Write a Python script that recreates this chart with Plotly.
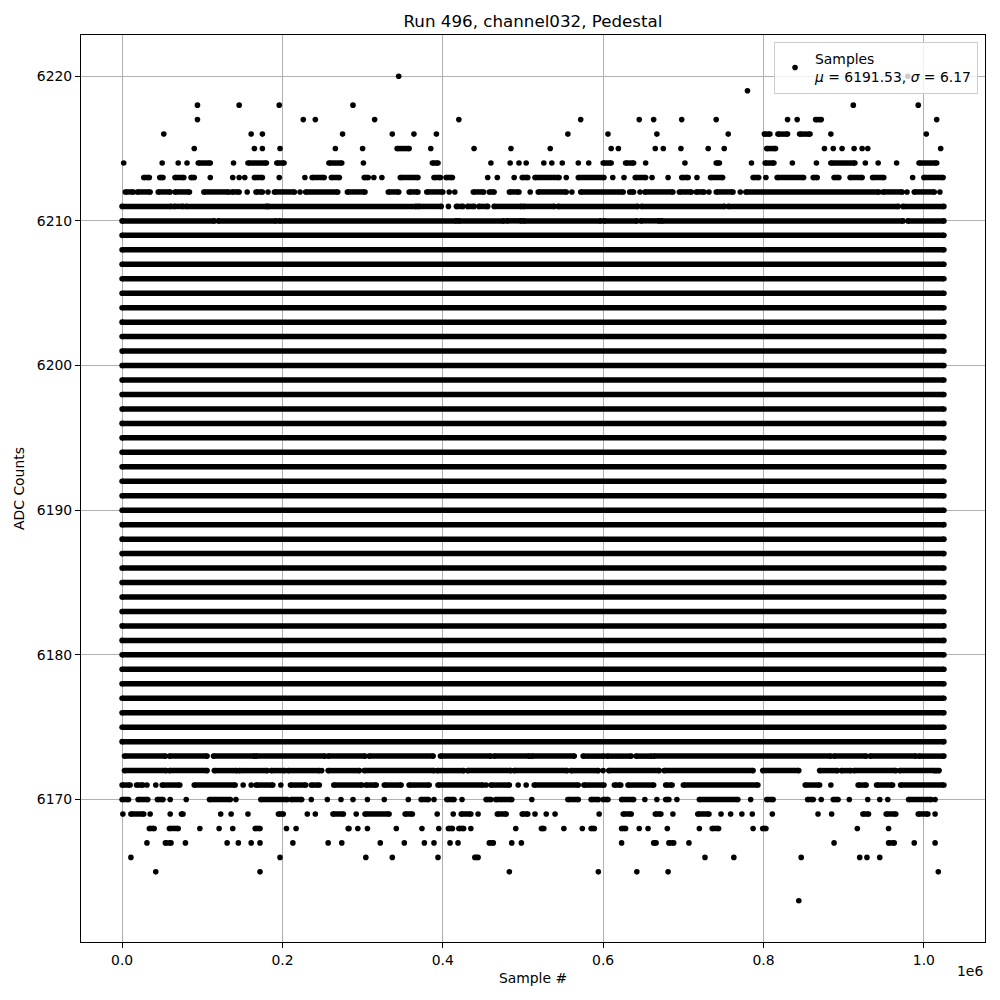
import plotly.graph_objects as go

# ---------------- data (sample positions in thousands of samples) ----------------
N_SAMPLES_K = 1025  # last sample index (x1000)

# ADC levels that are populated continuously over the whole run
dense_levels = [6174, 6175, 6176, 6177, 6178, 6179, 6180, 6181, 6182, 6183, 6184, 6185,
                6186, 6187, 6188, 6189, 6190, 6191, 6192, 6193, 6194, 6195, 6196, 6197,
                6198, 6199, 6200, 6201, 6202, 6203, 6204, 6205, 6206, 6207, 6208, 6209]

# Sparse / gappy levels: single numbers are isolated samples, tuples are runs of samples
adc_6220 = [345, 980]
adc_6219 = [780]
adc_6218 = [94, 146, 196, 288, 912, 993]
adc_6217 = [94, 226, 241, 315, 420, 572, 645, 663, 698, 741, 830, 842, (865, 872), 1016]
adc_6216 = [52, 161, 175, 275, 337, 364, 392, 556, 606, 667, 756, (801, 808), (818, 830),
            (845, 858), 884, 1003]
adc_6215 = [90, 165, 175, 197, 266, 300, (343, 358), 385, 439, 485, 534, 610, 619, 665, 675,
            697, 731, 751, (804, 815), 876, 887, 898, 913, 923, 930, 1021]
adc_6214 = [2, 50, 70, 81, (95, 110), 139, (157, 180), (193, 202), (258, 274), 301, (387, 394),
            460, 484, 495, 504, 526, 536, 549, 569, 582, (600, 610), (628, 638), 653, 702,
            (741, 745), 785, (802, 813), 836, 866, (884, 914), 927, 943, 966, (994, 1016)]
adc_6213 = [(27, 34), (47, 51), (66, 77), (86, 90), 110, 138, 146, 153, (165, 175), 196, 228,
            (237, 252), (261, 271), (302, 307), 314, 324, (347, 369), (389, 397), (404, 412),
            456, 468, 489, (499, 506), (515, 545), 554, (569, 601), 612, 626, (640, 653), 661,
            681, (698, 706), 717, (734, 749), (787, 794), 803, (817, 850), (862, 867),
            (888, 894), (908, 923), (936, 950), 986, (1000, 1024)]
adc_6212 = [(4, 14), (19, 35), (45, 60), (66, 84), (102, 133), (137, 146), 156, (167, 175), 182,
            (190, 215), 222, (229, 269), (281, 303), (332, 345), (358, 369), (380, 400), 408,
            415, (438, 451), (458, 464), (483, 495), 509, (519, 554), 561, (572, 625),
            (633, 638), 646, (652, 687), (695, 710), (716, 726), 732, (741, 762), 771,
            (778, 944), (949, 973), 979, (988, 1013), 1020]
adc_6211 = [(0, 61), (65, 76), (80, 180), (182, 367), (370, 398), 407, (417, 425), (431, 439),
            (445, 456), (464, 498), (501, 539), (544, 643), (648, 751), (756, 968), (974, 1025)]
adc_6210 = [(0, 115), (120, 192), (196, 417), (420, 476), (480, 498), (501, 597), (601, 642),
            (647, 670), (673, 974), (980, 1025)]

adc_6173 = [(3, 54), (59, 106), (114, 165), (167, 253), (257, 303), (308, 388), (397, 460),
            (464, 508), (511, 564), (575, 601), (605, 635), (641, 660), (663, 884), (888, 928),
            (933, 990), (994, 1025)]
adc_6172 = [(3, 55), (59, 106), (115, 143), (146, 181), (186, 203), (207, 246), 249, (257, 296),
            (302, 389), (393, 426), (431, 485), (489, 555), (560, 594), 600, (607, 670),
            (676, 787), (799, 844), (870, 892), (897, 909), (913, 965), (970, 1013), (1015, 1019)]
adc_6171 = [(0, 10), (18, 26), 31, 42, (50, 72), (90, 141), 151, 161, (167, 188), 198, (210, 229),
            (236, 246), (264, 299), (304, 317), (327, 348), (358, 383), (394, 450), 454,
            (460, 483), 494, 504, (514, 569), (576, 601), (614, 622), (631, 663), (678, 686),
            (700, 793), (852, 870), 884, (918, 928), (941, 961), (971, 1025)]
adc_6170 = [(0, 8), (20, 32), (44, 51), 60, 80, (109, 135), 142, (173, 206), (211, 224), 236, 256,
            273, 288, 306, 327, 357, (373, 382), 389, (405, 414), 424, (454, 460), (466, 486), 511,
            (556, 569), (585, 594), (600, 606), (623, 638), 652, 667, (678, 682), 692, (720, 768),
            784, (804, 812), (855, 862), 872, (887, 893), 907, 930, 945, 955, (981, 1009), 1014]
adc_6169 = [1, (11, 27), 35, 60, (74, 76), 123, 136, 157, (195, 201), 231, 241, (263, 276), 292,
            (303, 333), (353, 362), 393, 413, (423, 435), 444, (468, 479), (499, 506), 515, 529,
            540, 595, (625, 635), (665, 672), 687, (718, 732), 747, 759, 773, 786, 811, 868, 885,
            (924, 931), (953, 965), (993, 1005), 1014]
adc_6168 = [(34, 40), (59, 70), 97, 121, 138, (166, 172), 205, 217, (282, 283), 294, 306, 342,
            374, 395, (407, 412), (420, 426), 435, 491, (523, 526), 551, 574, (585, 589),
            (623, 628), 645, 656, 680, 720, (736, 744), 787, (799, 803), 917, 956]
adc_6167 = [31, (54, 61), 79, 131, 145, 161, 172, 213, 257, 274, 322, 352, 377, 389, 409, 419,
            (458, 463), 486, 498, 623, (663, 666), (682, 688), 707, 888, (956, 963), 988, 1014]
adc_6166 = [11, 197, 304, 337, 394, (440, 444), 727, 763, 847, 920, 929, 945]
adc_6165 = [42, 172, 483, 594, 642, 681, 1018]
adc_6163 = [844]

gappy_levels = [
    (6220, adc_6220), (6219, adc_6219), (6218, adc_6218), (6217, adc_6217),
    (6216, adc_6216), (6215, adc_6215), (6214, adc_6214), (6213, adc_6213),
    (6212, adc_6212), (6211, adc_6211), (6210, adc_6210),
    (6173, adc_6173), (6172, adc_6172), (6171, adc_6171), (6170, adc_6170),
    (6169, adc_6169), (6168, adc_6168), (6167, adc_6167), (6166, adc_6166),
    (6165, adc_6165), (6163, adc_6163),
]

x_ticks = [0, 200000, 400000, 600000, 800000, 1000000]
x_tick_text = ["0.0", "0.2", "0.4", "0.6", "0.8", "1.0"]
y_ticks = [6170, 6180, 6190, 6200, 6210, 6220]
title_text = "Run 496, channel032, Pedestal"
legend_text = "Samples<br><i>μ</i> = 6191.53, <i>σ</i> = 6.17"

# ---------------- build traces ----------------
line_x, line_y, pt_x, pt_y = [], [], [], []


def add_run(level, a, b):
    line_x.extend([a * 1000, b * 1000, None])
    line_y.extend([level, level, None])
    pt_x.extend([a * 1000, b * 1000])
    pt_y.extend([level, level])


for lvl in dense_levels:
    add_run(lvl, 0, N_SAMPLES_K)

for lvl, items in gappy_levels:
    for it in items:
        if isinstance(it, tuple):
            add_run(lvl, it[0], it[1])
        else:
            pt_x.append(it * 1000)
            pt_y.append(lvl)

ymin, ymax = min(pt_y), max(pt_y)
ypad = 0.05 * (ymax - ymin)
xmax = N_SAMPLES_K * 1000
xpad = 0.05 * xmax

FONT = "DejaVu Sans"

fig = go.Figure()
fig.add_trace(go.Scatter(
    x=line_x, y=line_y, mode="lines",
    line=dict(color="black", width=5.5),
    showlegend=False, hoverinfo="skip",
))
fig.add_trace(go.Scatter(
    x=pt_x, y=pt_y, mode="markers",
    marker=dict(color="black", size=5.6, line=dict(width=0)),
    name=legend_text, showlegend=True,
))

axis_common = dict(
    showline=True, linecolor="black", linewidth=1, mirror=True,
    showgrid=True, gridcolor="#b0b0b0", gridwidth=0.8,
    ticks="outside", ticklen=5, tickwidth=1, tickcolor="black",
    zeroline=False,
    tickfont=dict(family=FONT, size=13.9, color="black"),
    automargin=False,
)

fig.update_layout(
    width=1000, height=1000,
    margin=dict(l=81, r=15, t=35, b=58),
    paper_bgcolor="white", plot_bgcolor="white",
    font=dict(family=FONT, size=13.9, color="black"),
    title=dict(text=title_text, x=0.533, xanchor="center", y=0.979, yanchor="middle",
               xref="container", font=dict(family=FONT, size=16.7, color="black")),
    xaxis=dict(range=[-xpad, xmax + xpad], tickvals=x_ticks, ticktext=x_tick_text,
               title=dict(text="Sample #", standoff=6,
                          font=dict(family=FONT, size=13.9, color="black")),
               **axis_common),
    yaxis=dict(range=[ymin - ypad, ymax + ypad], tickvals=y_ticks,
               title=dict(text="ADC Counts", standoff=8,
                          font=dict(family=FONT, size=13.9, color="black")),
               **axis_common),
    legend=dict(x=0.9923, xanchor="right", y=0.9923, yanchor="top",
                bgcolor="rgba(255,255,255,0.8)", bordercolor="#cccccc", borderwidth=1,
                font=dict(family=FONT, size=13.9, color="black")),
    annotations=[dict(text="1e6", xref="paper", yref="paper", x=1.0, y=-0.032,
                      xanchor="right", yanchor="middle", showarrow=False,
                      font=dict(family=FONT, size=13.9, color="black"))],
    showlegend=True,
)

fig.write_html(
    "out.html",
    config={"displayModeBar": False},
    post_script="document.body.style.margin='0';document.body.style.padding='0';",
)
